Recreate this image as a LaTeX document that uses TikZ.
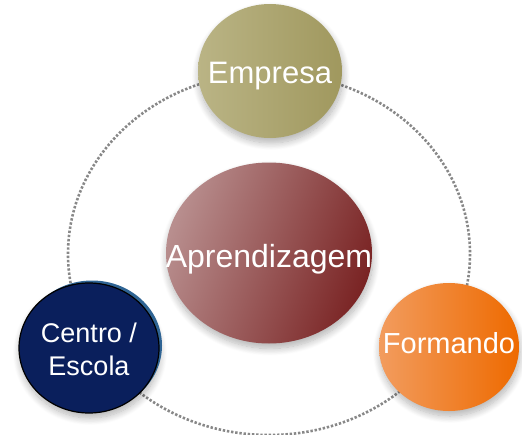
\documentclass[tikz,border=0pt]{standalone}
\usepackage{fontspec}
\setmainfont{Liberation Sans}
\usetikzlibrary{shapes.geometric,shadows,shadows.blur}
\definecolor{olivelight}{HTML}{BAB485}
\definecolor{olivedark}{HTML}{A0985E}
\definecolor{winelight}{HTML}{B88E8E}
\definecolor{winedark}{HTML}{7A2424}
\definecolor{orangelight}{HTML}{F29C5E}
\definecolor{orangedark}{HTML}{EE6A00}
\definecolor{navy}{HTML}{0A1F5C}
\definecolor{rimblue}{HTML}{2F6494}
\definecolor{ringgray}{HTML}{888888}
\newcommand{\bubtext}[2]{\makebox[0pt]{\raisebox{-#1}[0pt][0pt]{#2}}}

\begin{document}
\begin{tikzpicture}[
x=1pt,y=-1pt,
bubble/.style={ellipse,inner sep=0pt,text=white,
  blur shadow={shadow xshift=1pt,shadow yshift=-5pt,shadow blur radius=7pt,
  shadow blur steps=12,shadow opacity=30}},
ring/.style={draw=ringgray,line width=2.6pt,dash pattern=on 2.4pt off 1.8pt}
]
\useasboundingbox (0,0) rectangle (522,434);

\coordinate (ctr) at (269,254);
\draw [ring] (ctr) ellipse [x radius=201,y radius=181];

\node [bubble,minimum width=144,minimum height=134,
  left color=olivelight,right color=olivedark,
  font=\fontsize{31}{33}\selectfont] (empresa) at (270,71)
  {\bubtext{12pt}{Empresa}};
\node [bubble,minimum width=206,minimum height=181,
  left color=winelight,right color=winedark,shading angle=70,
  font=\fontsize{32}{34}\selectfont] (aprend) at (269,253)
  {\bubtext{14pt}{Aprendizagem}};
\node [bubble,minimum width=140,minimum height=130,fill=navy,
  draw=black,line width=1.2pt,
  drop shadow={shadow xshift=3pt,shadow yshift=2.5pt,fill=rimblue,opacity=1},
  font=\fontsize{27}{33}\selectfont] (centro) at (89,348)
  {\bubtext{11pt}{\begin{tabular}{@{}c@{}}Centro /\\Escola\end{tabular}}};
\node [bubble,minimum width=140,minimum height=128,
  left color=orangelight,right color=orangedark,
  font=\fontsize{29}{31}\selectfont] (formando) at (449,347)
  {\bubtext{6pt}{Formando}};
\end{tikzpicture}
\end{document}
